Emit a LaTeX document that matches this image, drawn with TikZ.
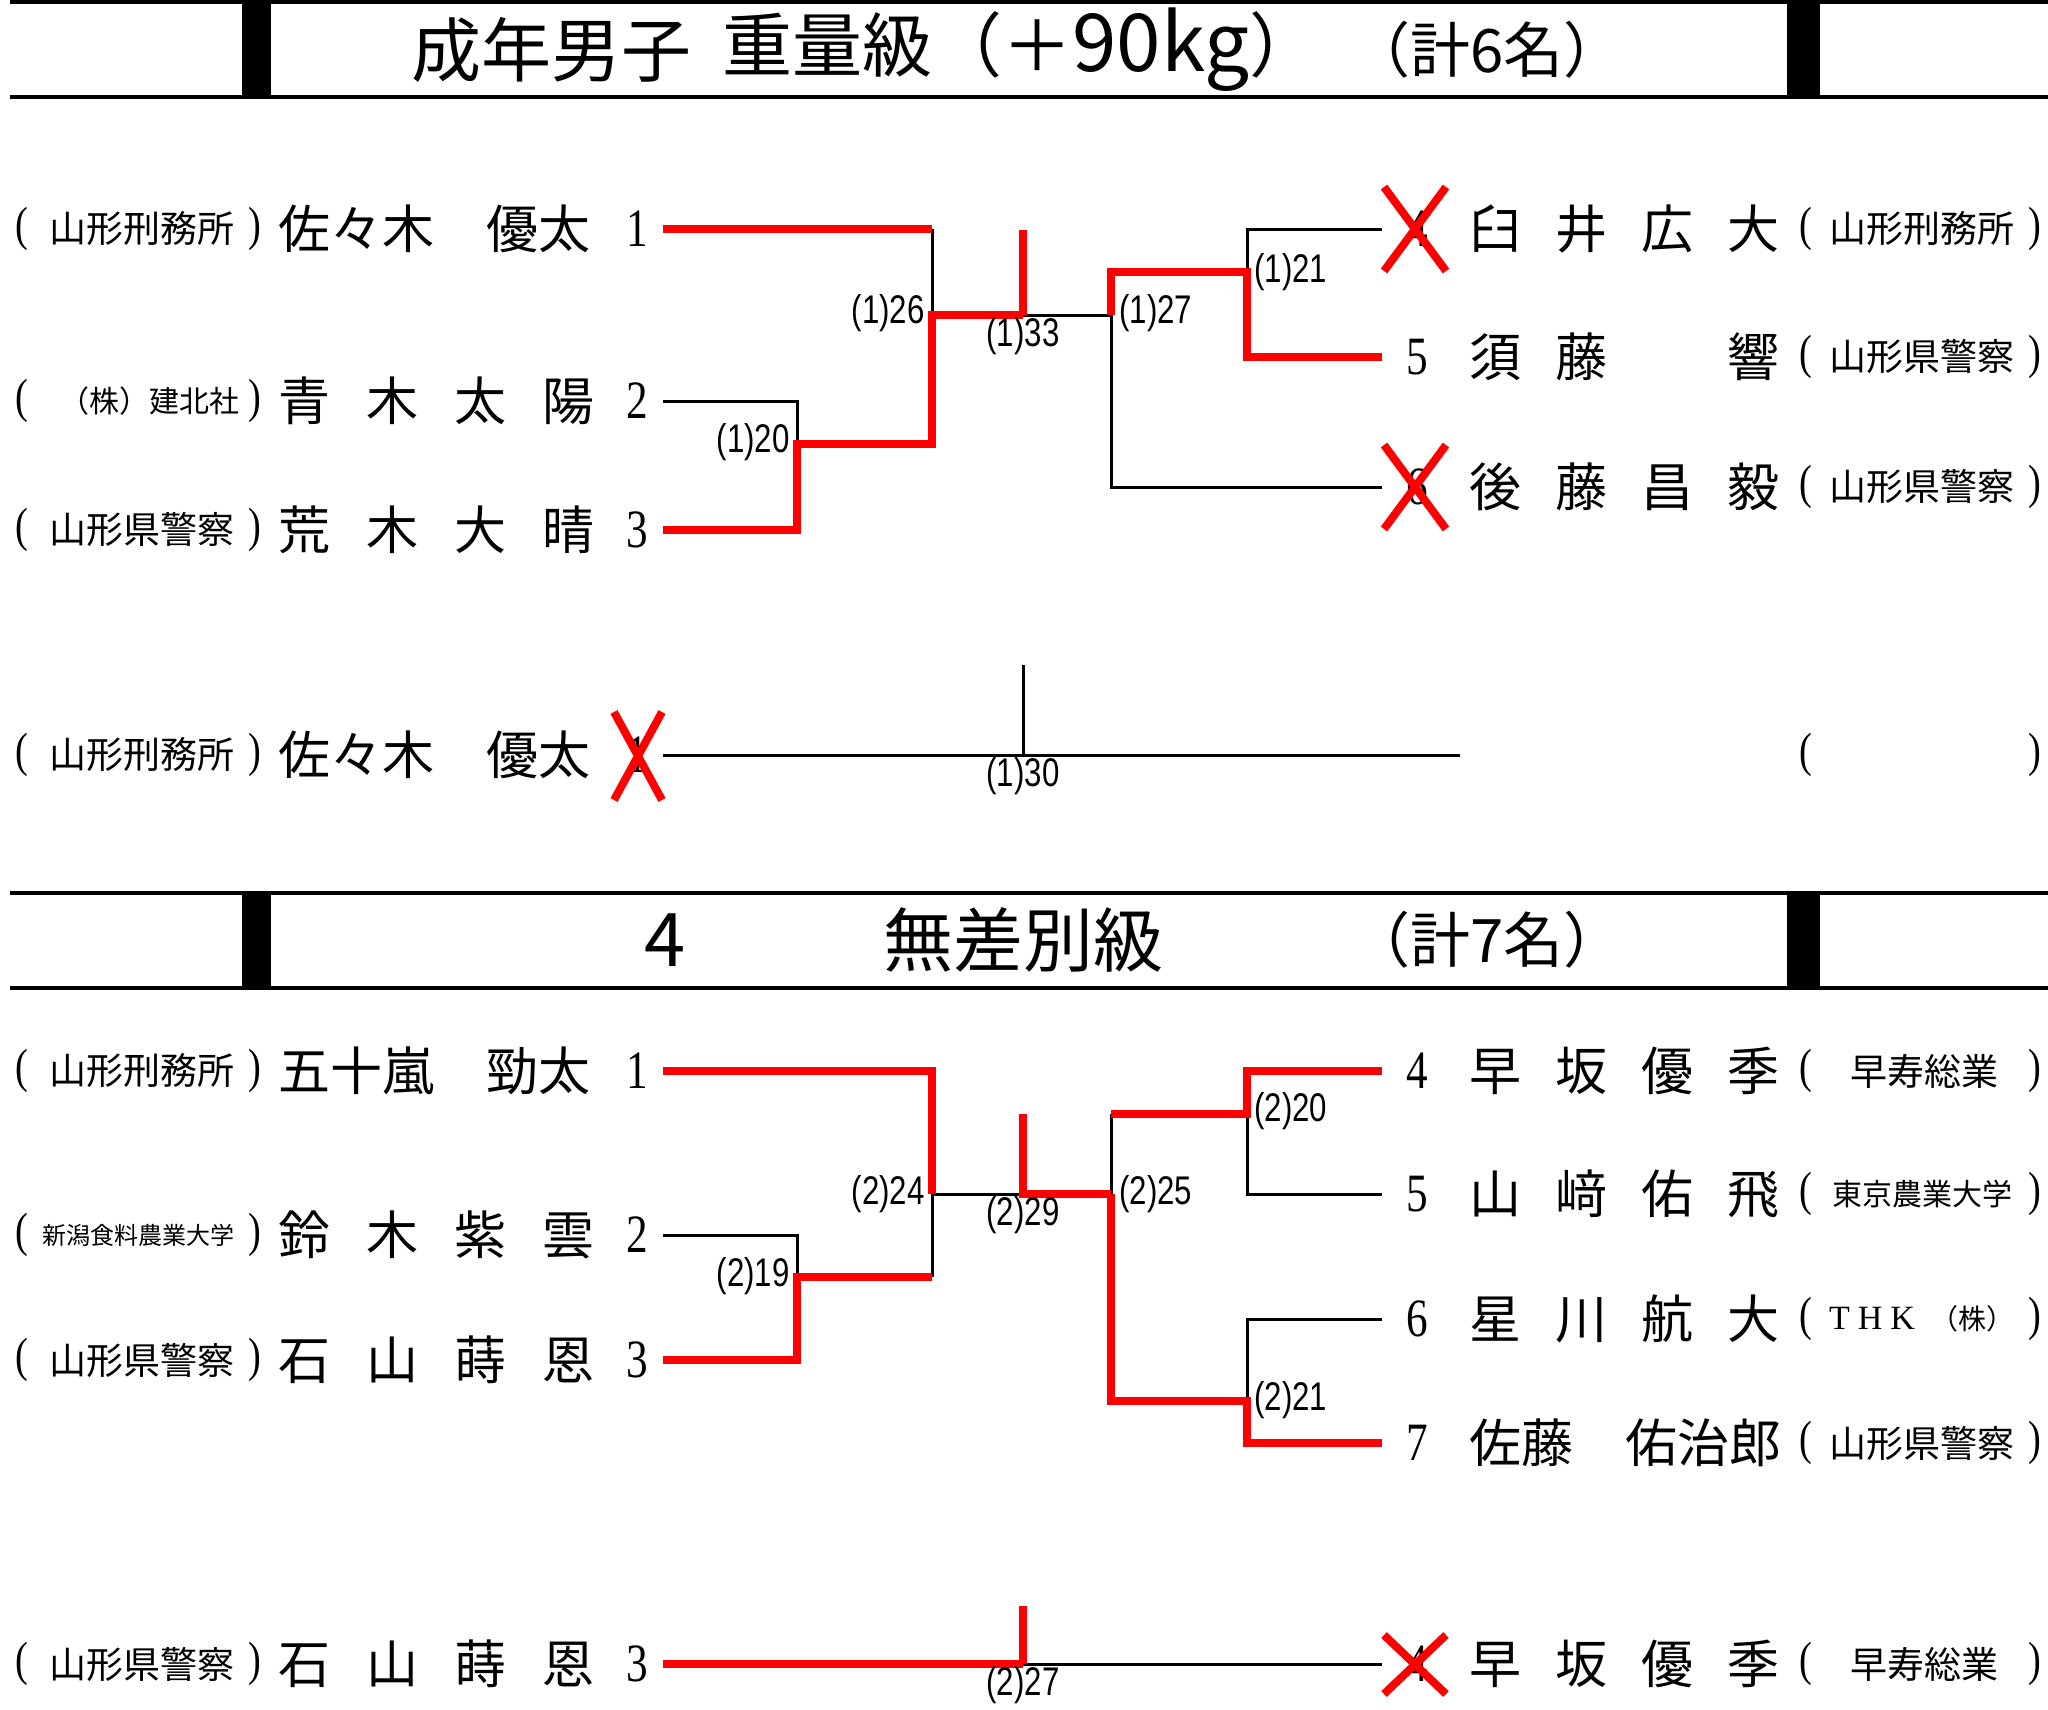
\documentclass[tikz,border=0pt]{standalone}
\usepackage{fontspec}
\setmainfont{Liberation Serif}
\newfontfamily\jp{Noto Sans CJK JP}
\newfontfamily\lab[FakeStretch=0.78]{Liberation Sans}
\newfontfamily\num[FakeStretch=0.8]{Liberation Serif}
\newcommand{\spreadname}[5]{\makebox[#1]{#2\hfill #3\hfill #4\hfill #5}}
\begin{document}
\begin{tikzpicture}[x=0.5pt,y=-0.5pt,
  bl/.style={line width=1.5pt,black},
  rd/.style={line width=4pt,red},
  hd/.style={line width=2pt,black},
  xm/.style={line width=4pt,red},
  lb/.style={inner sep=0pt,font=\lab\fontsize{20}{20}\selectfont},
  nm/.style={inner sep=0pt,anchor=west,font=\jp\fontsize{26}{26}\selectfont},
  af/.style={inner sep=0pt,font=\jp\fontsize{18.5}{18.5}\selectfont},
  afs/.style={inner sep=0pt,font=\jp\fontsize{15}{15}\selectfont},
  nb/.style={inner sep=0pt,font=\num\fontsize{27}{27}\selectfont},
  pr/.style={inner sep=0pt,font=\num\fontsize{24}{24}\selectfont},
  ttl/.style={inner sep=0pt,anchor=west,font=\jp\fontsize{35}{35}\selectfont},
  cnt/.style={inner sep=0pt,anchor=west,font=\jp\fontsize{30}{30}\selectfont},
]
\useasboundingbox (0,0) rectangle (2048,1709);
\fill[white] (0,0) rectangle (2048,1709);

% ---------- header 1 ----------
\draw[hd] (10,2) -- (2048,2);
\draw[hd] (10,97) -- (2048,97);
\fill (242,0) rectangle (271,97);
\fill (1787,0) rectangle (1820,97);
\node[ttl] (t1a) at (411,50) {成年男子};
\node[ttl] (t1b) at (722,50) {重量級（＋{\fontsize{40}{40}\selectfont 90kg}）};
\node[cnt] (t1c) at (1350,50) {（計6名）};

% ---------- header 2 ----------
\draw[hd] (10,893) -- (2048,893);
\draw[hd] (10,988) -- (2048,988);
\fill (242,893) rectangle (271,988);
\fill (1787,893) rectangle (1820,988);
\node[inner sep=0pt,font=\jp\fontsize{37}{37}\selectfont] (t2a) at (665,940) {4};
\node[ttl] (t2b) at (883,940) {無差別級};
\node[cnt] (t2c) at (1350,940) {（計7名）};

% ---------- bracket 1 coordinates ----------
\coordinate (a1) at (663,229);
\coordinate (a2) at (663,401);
\coordinate (a3) at (663,530);
\coordinate (j20) at (797,444);
\coordinate (j26) at (932,315);
\coordinate (c33) at (1023,315);
\coordinate (c33t) at (1023,230);
\coordinate (j27) at (1111,315);
\coordinate (j21) at (1247,272);
\coordinate (r4) at (1382,229);
\coordinate (r5) at (1382,357);
\coordinate (r6) at (1382,487);

\draw[bl] (a1 -| j26) -- (j26);
\draw[bl] (a2) -| (j20);
\draw[bl] (c33) -- (j27) -- (j27 |- r6) -- (r6);
\draw[bl] (j21) -- (j21 |- r4) -- (r4);
\draw[rd] (a1) -- (a1 -| j26);
\draw[rd] (a3) -| (j20) -- (j20 -| j26) -- (j26) -- (c33);
\draw[rd] (c33t) -- (c33);
\draw[rd] (j27) -- (j27 |- j21) -- (j21) -- (j21 |- r5) -- (r5);

\node[lb,anchor=east] (l120) at (790,442) {(1)20};
\node[lb,anchor=east] (l126) at (925,313) {(1)26};
\node[lb] (l133) at (1023,336) {(1)33};
\node[lb,anchor=west] (l127) at (1119,313) {(1)27};
\node[lb,anchor=west] (l121) at (1254,272) {(1)21};

% ---------- consolation 1 ----------
\coordinate (k1) at (663,755);
\coordinate (k2) at (1460,755);
\coordinate (c30) at (1023,755);
\coordinate (c30t) at (1023,665);
\draw[bl] (k1) -- (k2);
\draw[bl] (c30t) -- (c30);
\node[lb] (l130) at (1023,776) {(1)30};

% ---------- bracket 2 coordinates ----------
\coordinate (b1) at (663,1071);
\coordinate (b2) at (663,1235);
\coordinate (b3) at (663,1360);
\coordinate (j19) at (797,1277);
\coordinate (j24) at (932,1194);
\coordinate (c29) at (1023,1194);
\coordinate (c29t) at (1023,1114);
\coordinate (j25) at (1111,1194);
\coordinate (j20b) at (1247,1114);
\coordinate (j21b) at (1247,1401);
\coordinate (s4) at (1382,1071);
\coordinate (s5) at (1382,1194);
\coordinate (s6) at (1382,1319);
\coordinate (s7) at (1382,1443);

\draw[bl] (j24) -- (c29);
\draw[bl] (j24) -- (j24 |- j19);
\draw[bl] (b2) -| (j19);
\draw[bl] (j25) -- (j25 |- j20b);
\draw[bl] (j20b) -- (j20b |- s5) -- (s5);
\draw[bl] (j21b) -- (j21b |- s6) -- (s6);
\draw[rd] (b1) -| (j24);
\draw[rd] (c29t) -- (c29) -- (j25);
\draw[rd] (b3) -| (j19) -- (j19 -| j24);
\draw[rd] (j25 |- j20b) -- (j20b) -- (j20b |- s4) -- (s4);
\draw[rd] (j25) -- (j25 |- j21b) -- (j21b) -- (j21b |- s7) -- (s7);

\node[lb,anchor=east] (l219) at (790,1276) {(2)19};
\node[lb,anchor=east] (l224) at (925,1194) {(2)24};
\node[lb] (l229) at (1023,1215) {(2)29};
\node[lb,anchor=west] (l225) at (1119,1194) {(2)25};
\node[lb,anchor=west] (l220) at (1254,1111) {(2)20};
\node[lb,anchor=west] (l221) at (1254,1400) {(2)21};

% ---------- consolation 2 ----------
\coordinate (m1) at (663,1664);
\coordinate (c27) at (1023,1664);
\coordinate (c27t) at (1023,1606);
\coordinate (m2) at (1382,1664);
\draw[bl] (c27) -- (m2);
\draw[rd] (m1) -- (c27);
\draw[rd] (c27t) -- (c27);
\node[lb] (l227) at (1023,1685) {(2)27};

% ---------- left entries ----------
% bracket 1
\node[pr] (pl1a) at (22,229) {(};
\node[af] (fl1) at (142,229) {山形刑務所};
\node[pr] (pl1b) at (255,229) {)};
\node[nm] (nl1) at (278,229) {\makebox[158pt][l]{佐々木　優太}};
\node[nb] (dl1) at (637,229) {1};

\node[pr] (pl2a) at (22,401) {(};
\node[afs] (fl2) at (149,401) {（株）建北社};
\node[pr] (pl2b) at (255,401) {)};
\node[nm] (nl2) at (278,401) {\spreadname{158pt}{青}{木}{太}{陽}};
\node[nb] (dl2) at (637,401) {2};

\node[pr] (pl3a) at (22,530) {(};
\node[af] (fl3) at (142,530) {山形県警察};
\node[pr] (pl3b) at (255,530) {)};
\node[nm] (nl3) at (278,530) {\spreadname{158pt}{荒}{木}{大}{晴}};
\node[nb] (dl3) at (637,530) {3};

% consolation 1
\node[pr] (pk1a) at (22,755) {(};
\node[af] (fk1) at (142,755) {山形刑務所};
\node[pr] (pk1b) at (255,755) {)};
\node[nm] (nk1) at (278,755) {\makebox[158pt][l]{佐々木　優太}};
\node[nb] (dk1) at (637,755) {1};
\node[pr] (pk2a) at (1806,755) {(};
\node[pr] (pk2b) at (2035,755) {)};

% bracket 2
\node[pr] (pm1a) at (22,1071) {(};
\node[af] (fm1) at (142,1071) {山形刑務所};
\node[pr] (pm1b) at (255,1071) {)};
\node[nm] (nm1) at (278,1071) {\makebox[158pt][l]{五十嵐　勁太}};
\node[nb] (dm1) at (637,1071) {1};

\node[pr] (pm2a) at (22,1235) {(};
\node[inner sep=0pt,font=\jp\fontsize{12}{12}\selectfont] (fm2) at (138,1235) {新潟食料農業大学};
\node[pr] (pm2b) at (255,1235) {)};
\node[nm] (nm2) at (278,1235) {\spreadname{158pt}{鈴}{木}{紫}{雲}};
\node[nb] (dm2) at (637,1235) {2};

\node[pr] (pm3a) at (22,1360) {(};
\node[af] (fm3) at (142,1360) {山形県警察};
\node[pr] (pm3b) at (255,1360) {)};
\node[nm] (nm3) at (278,1360) {\spreadname{158pt}{石}{山}{蒔}{恩}};
\node[nb] (dm3) at (637,1360) {3};

% consolation 2 left
\node[pr] (pc2a) at (22,1664) {(};
\node[af] (fc2) at (142,1664) {山形県警察};
\node[pr] (pc2b) at (255,1664) {)};
\node[nm] (nc2) at (278,1664) {\spreadname{158pt}{石}{山}{蒔}{恩}};
\node[nb] (dc2) at (637,1664) {3};

% ---------- right entries ----------
\node[nb] (dr4) at (1417,229) {4};
\node[nm] (nr4) at (1469,229) {\spreadname{155pt}{臼}{井}{広}{大}};
\node[pr] (pr4a) at (1806,229) {(};
\node[af] (fr4) at (1922,229) {山形刑務所};
\node[pr] (pr4b) at (2035,229) {)};

\node[nb] (dr5) at (1417,357) {5};
\node[nm] (nr5) at (1469,357) {\spreadname{155pt}{須}{藤}{　}{響}};
\node[pr] (pr5a) at (1806,357) {(};
\node[af] (fr5) at (1922,357) {山形県警察};
\node[pr] (pr5b) at (2035,357) {)};

\node[nb] (dr6) at (1417,487) {6};
\node[nm] (nr6) at (1469,487) {\spreadname{155pt}{後}{藤}{昌}{毅}};
\node[pr] (pr6a) at (1806,487) {(};
\node[af] (fr6) at (1922,487) {山形県警察};
\node[pr] (pr6b) at (2035,487) {)};

\node[nb] (ds4) at (1417,1071) {4};
\node[nm] (ns4) at (1469,1071) {\spreadname{155pt}{早}{坂}{優}{季}};
\node[pr] (ps4a) at (1806,1071) {(};
\node[af] (fs4) at (1924,1071) {早寿総業};
\node[pr] (ps4b) at (2035,1071) {)};

\node[nb] (ds5) at (1417,1194) {5};
\node[nm] (ns5) at (1469,1194) {\spreadname{155pt}{山}{﨑}{佑}{飛}};
\node[pr] (ps5a) at (1806,1194) {(};
\node[afs] (fs5) at (1922,1194) {東京農業大学};
\node[pr] (ps5b) at (2035,1194) {)};

\node[nb] (ds6) at (1417,1319) {6};
\node[nm] (ns6) at (1469,1319) {\spreadname{155pt}{星}{川}{航}{大}};
\node[pr] (ps6a) at (1806,1319) {(};
\node[inner sep=0pt] (fs6) at (1922,1319) {\fontsize{17}{17}\selectfont T\hspace{4pt}H\hspace{4pt}K\hspace{8pt}{\jp\fontsize{14}{14}\selectfont（株）}};
\node[pr] (ps6b) at (2035,1319) {)};

\node[nb] (ds7) at (1417,1443) {7};
\node[nm] (ns7) at (1469,1443) {\makebox[155pt][l]{佐藤　佑治郎}};
\node[pr] (ps7a) at (1806,1443) {(};
\node[af] (fs7) at (1922,1443) {山形県警察};
\node[pr] (ps7b) at (2035,1443) {)};

\node[nb] (dc4) at (1417,1664) {4};
\node[nm] (nc4) at (1469,1664) {\spreadname{155pt}{早}{坂}{優}{季}};
\node[pr] (pc4a) at (1806,1664) {(};
\node[af] (fc4) at (1924,1664) {早寿総業};
\node[pr] (pc4b) at (2035,1664) {)};

% ---------- red crosses ----------
\draw[xm] (1384,187) -- (1446,271) (1384,271) -- (1446,187);
\draw[xm] (1384,445) -- (1446,529) (1384,529) -- (1446,445);
\draw[xm] (614,712) -- (662,800) (614,800) -- (662,712);
\draw[xm] (1384,1635) -- (1446,1694) (1384,1694) -- (1446,1635);
\end{tikzpicture}
\end{document}
